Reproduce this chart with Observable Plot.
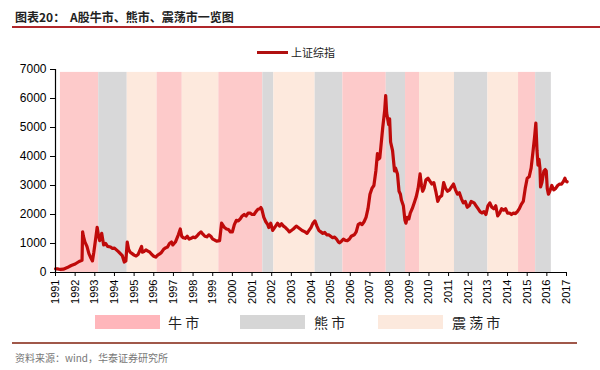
<!DOCTYPE html>
<html>
<head>
<meta charset="utf-8">
<script src="https://cdn.jsdelivr.net/npm/d3@7"></script>
<script src="https://cdn.jsdelivr.net/npm/@observablehq/plot@0.6"></script>
<style>
  html, body { margin: 0; padding: 0; background: #fff; }
  #wrap { position: relative; width: 600px; height: 370px; overflow: hidden; font-family: "Liberation Sans", Arial, sans-serif; }
  #wrap svg { position: absolute; left: 0; top: 0; }
  .txt { position: absolute; white-space: nowrap; font-family: "Noto Sans CJK SC", sans-serif; }
  .sw { position: absolute; }
  .hr { position: absolute; height: 2px; }
</style>
</head>
<body>
<div id="wrap"></div>
<script>
// ---- data ----
const years = d3.range(1991, 2018);
const yTicks = [0, 1000, 2000, 3000, 4000, 5000, 6000, 7000];
const regimeNames = ["牛市", "熊市", "震荡市"];
const regimeStart = [1991.25, 1993.2, 1994.65, 1996.17, 1997.45, 1999.31, 2001.55, 2002.11, 2004.21, 2005.62, 2007.83, 2008.81, 2009.52, 2011.3, 2013.0, 2014.56, 2015.43];
const regimeEnd   = [1993.2, 1994.65, 1996.17, 1997.45, 1999.31, 2001.55, 2002.11, 2004.21, 2005.62, 2007.83, 2008.81, 2009.52, 2011.3, 2013.0, 2014.56, 2015.43, 2016.23];
const regimeType  = ["牛市","熊市","震荡市","牛市","震荡市","牛市","熊市","震荡市","熊市","牛市","熊市","牛市","震荡市","熊市","震荡市","牛市","熊市"];
const regimeTop = 6900;

const t = [1991.0,1991.1,1991.25,1991.4,1991.6,1991.8,1992.0,1992.2,1992.35,1992.38,1992.42,1992.5,1992.6,1992.7,1992.8,1992.88,1992.95,1993.05,1993.12,1993.18,1993.25,1993.35,1993.45,1993.55,1993.65,1993.8,1993.9,1994.0,1994.1,1994.2,1994.3,1994.4,1994.5,1994.58,1994.65,1994.72,1994.8,1994.9,1995.0,1995.1,1995.2,1995.38,1995.42,1995.5,1995.6,1995.7,1995.8,1995.9,1996.0,1996.1,1996.2,1996.3,1996.4,1996.5,1996.6,1996.7,1996.8,1996.9,1996.97,1997.1,1997.25,1997.35,1997.42,1997.5,1997.6,1997.7,1997.8,1997.9,1998.0,1998.1,1998.2,1998.3,1998.4,1998.5,1998.6,1998.7,1998.8,1998.9,1999.0,1999.1,1999.2,1999.35,1999.45,1999.5,1999.6,1999.7,1999.8,1999.9,2000.0,2000.1,2000.2,2000.3,2000.4,2000.5,2000.6,2000.7,2000.8,2000.9,2001.0,2001.1,2001.2,2001.3,2001.4,2001.45,2001.5,2001.6,2001.7,2001.8,2001.85,2001.95,2002.05,2002.15,2002.3,2002.4,2002.5,2002.6,2002.7,2002.8,2002.9,2003.0,2003.1,2003.25,2003.35,2003.45,2003.55,2003.7,2003.8,2003.9,2004.0,2004.1,2004.2,2004.3,2004.4,2004.5,2004.6,2004.7,2004.8,2004.9,2005.0,2005.1,2005.2,2005.3,2005.4,2005.45,2005.55,2005.65,2005.75,2005.85,2005.95,2006.05,2006.2,2006.3,2006.4,2006.5,2006.6,2006.7,2006.8,2006.9,2007.0,2007.1,2007.2,2007.3,2007.38,2007.42,2007.5,2007.55,2007.65,2007.75,2007.8,2007.85,2007.95,2008.0,2008.05,2008.15,2008.25,2008.3,2008.4,2008.48,2008.55,2008.6,2008.7,2008.78,2008.83,2008.9,2008.98,2009.05,2009.15,2009.25,2009.35,2009.45,2009.55,2009.62,2009.68,2009.75,2009.85,2009.95,2010.05,2010.15,2010.25,2010.35,2010.45,2010.55,2010.65,2010.75,2010.85,2010.95,2011.05,2011.15,2011.25,2011.35,2011.45,2011.55,2011.65,2011.75,2011.85,2011.95,2012.05,2012.15,2012.3,2012.4,2012.5,2012.6,2012.7,2012.8,2012.9,2013.0,2013.1,2013.2,2013.3,2013.4,2013.5,2013.6,2013.7,2013.8,2013.9,2014.0,2014.1,2014.2,2014.3,2014.4,2014.5,2014.6,2014.7,2014.8,2014.9,2015.0,2015.1,2015.2,2015.3,2015.38,2015.44,2015.5,2015.55,2015.6,2015.65,2015.68,2015.75,2015.85,2015.92,2015.97,2016.02,2016.08,2016.15,2016.25,2016.35,2016.45,2016.55,2016.65,2016.75,2016.85,2016.92,2016.97,2017.03];
const v = [128,125,105,115,170,240,292,380,420,1400,1250,1050,900,650,500,400,700,1200,1560,1300,1100,1350,950,1000,900,880,830,840,780,720,650,580,360,400,1050,800,700,650,600,570,620,900,700,720,780,740,700,620,560,530,600,640,700,800,850,880,1000,1050,950,1050,1300,1500,1250,1200,1180,1250,1150,1180,1220,1200,1260,1340,1400,1320,1250,1230,1300,1250,1150,1120,1080,1100,1700,1650,1550,1500,1480,1400,1400,1650,1800,1780,1850,1950,2000,1950,2050,2050,2000,2000,2100,2180,2200,2240,2180,1900,1750,1650,1550,1700,1450,1550,1700,1600,1680,1600,1550,1480,1400,1450,1500,1600,1550,1500,1450,1400,1350,1450,1550,1700,1780,1600,1450,1400,1350,1380,1300,1300,1250,1200,1220,1150,1050,1020,1080,1150,1110,1100,1150,1250,1300,1400,1650,1700,1650,1750,1900,2200,2700,2900,3000,3500,4100,3900,3950,4300,5000,5600,6100,5500,5100,5300,4500,4200,3500,3600,3400,2800,2700,2500,2300,1800,1700,1900,1850,2050,2200,2400,2600,2900,3400,3000,2800,2900,3200,3250,3150,3050,3100,2800,2450,2600,2650,3100,2900,2800,2850,2950,3050,2850,2700,2750,2550,2400,2450,2250,2300,2450,2400,2300,2200,2100,2050,2100,2000,2300,2400,2250,2200,2300,1950,2050,2200,2150,2200,2050,2050,2000,2050,2030,2100,2200,2350,2450,2900,3250,3300,3600,4200,4700,5150,4200,3700,3900,3600,2950,3100,3500,3550,3500,2900,2700,2800,3000,2850,2900,3000,3050,3050,3150,3250,3150,3130];

const series = t.map((d, i) => ({t: d, v: v[i]}));
const regimes = regimeStart.map((s, i) => ({x1: s, x2: regimeEnd[i], type: regimeType[i], top: regimeTop}));

const bandColors = ["#fdcaca", "#d8d8d9", "#fde9dd"];
const legendColors = ["#ffb6bb", "#d6d6d6", "#fce9dd"];

const chart = Plot.plot({
  width: 600,
  height: 312,
  marginTop: 69,
  marginLeft: 55,
  marginRight: 34,
  marginBottom: 40,
  style: {background: "transparent", fontFamily: "'Liberation Sans', Arial, sans-serif", fontSize: "11px", color: "#000", overflow: "visible"},
  x: {domain: [1991, 2017], ticks: years, tickFormat: "d", tickRotate: -90, tickSize: 4, label: null, tickPadding: 3},
  y: {domain: [0, 7000], ticks: yTicks, tickFormat: "d", tickSize: 5, label: null, tickPadding: 4},
  color: {domain: regimeNames, range: bandColors},
  marks: [
    Plot.rect(regimes, {x1: "x1", x2: "x2", y1: 0, y2: "top", fill: "type"}),
    Plot.line(series, {x: "t", y: "v", stroke: "#bf0a0a", strokeWidth: 3.2, strokeLinejoin: "round"}),
    Plot.ruleY([0], {stroke: "#000", strokeWidth: 1.2}),
    Plot.ruleX([1991], {stroke: "#000", strokeWidth: 1.2})
  ]
});
chart.querySelectorAll("[aria-label='y-axis tick label']").forEach(n => n.setAttribute("font-size", "12"));

const wrap = document.getElementById("wrap");
wrap.appendChild(chart);

function add(html, css, cls) {
  const d = document.createElement("div");
  d.className = cls || "txt";
  d.innerHTML = html;
  Object.assign(d.style, css);
  wrap.appendChild(d);
  return d;
}
// title
add("图表20：", {left: "15px", top: "8px", fontSize: "12px", fontWeight: "bold", color: "#222"});
add("A股牛市、熊市、震荡市一览图", {left: "70px", top: "8px", fontSize: "12px", fontWeight: "bold", color: "#222"});
add("", {left: "12px", top: "26px", width: "588px", background: "#b0262a"}, "hr");
// series legend
add("", {left: "257px", top: "51px", width: "31px", height: "3px", background: "#b01010"}, "sw");
add("上证综指", {left: "291px", top: "44px", fontSize: "11px", color: "#222"});
// regime legend
const legX = [95, 240, 378];
const legTX = [168, 314, 452];
regimeNames.forEach((n, i) => {
  add("", {left: legX[i] + "px", top: "315px", width: "65px", height: "14px", background: legendColors[i]}, "sw");
  add(n.split("").join(" "), {left: legTX[i] + "px", top: "312px", fontSize: "14px", color: "#222"});
});
// footer
add("", {left: "12px", top: "342px", width: "565px", background: "#a0584a"}, "hr");
add("资料来源：wind，华泰证券研究所", {left: "15px", top: "350px", fontSize: "10px", color: "#777"});
</script>
</body>
</html>
